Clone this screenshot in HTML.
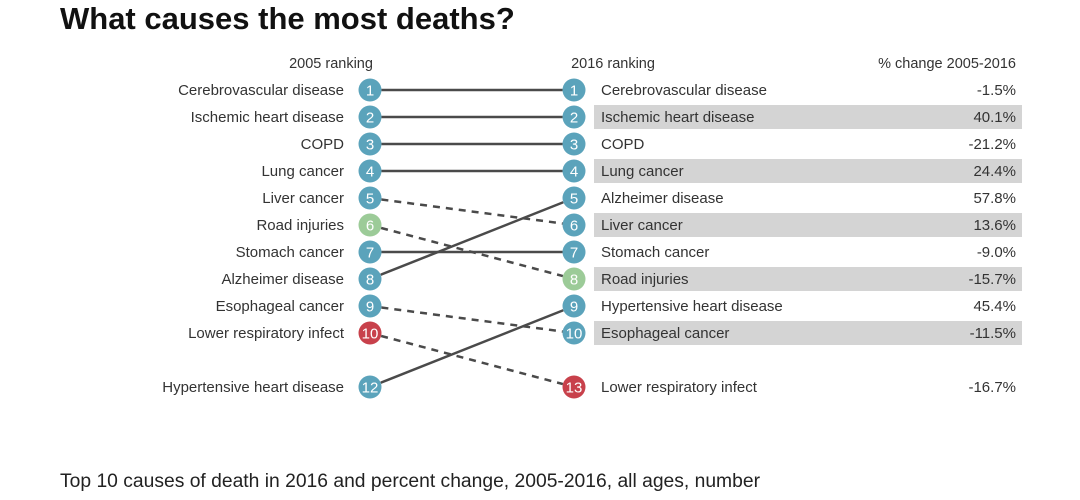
<!DOCTYPE html>
<html><head><meta charset="utf-8">
<style>
html,body{margin:0;padding:0;background:#fff;}
svg{display:block;font-family:"Liberation Sans",sans-serif;}
</style></head>
<body>
<svg id="chart" width="1080" height="500">
<text x="60" y="29" font-size="31" font-weight="bold" fill="#111">What causes the most deaths?</text>
<text x="331" y="68" font-size="14.5" fill="#333" text-anchor="middle">2005 ranking</text>
<text x="613" y="68" font-size="14.5" fill="#333" text-anchor="middle">2016 ranking</text>
<text x="1016" y="68" font-size="14.5" fill="#333" text-anchor="end">% change 2005-2016</text>
<g id="rows"></g>
<text x="60" y="487" font-size="19.3" fill="#222">Top 10 causes of death in 2016 and percent change, 2005-2016, all ages, number</text>
</svg>
<script>
const causes = ["Cerebrovascular disease","Ischemic heart disease","COPD","Lung cancer","Liver cancer","Road injuries","Stomach cancer","Alzheimer disease","Esophageal cancer","Lower respiratory infect","Hypertensive heart disease"];
const rank2005 = [1,2,3,4,5,6,7,8,9,10,12];
const rank2016 = [1,2,3,4,6,8,7,5,10,13,9];
const pctLabels = ["-1.5%","40.1%","-21.2%","24.4%","13.6%","-15.7%","-9.0%","57.8%","-11.5%","-16.7%","45.4%"];
const groups = ["ncd","ncd","ncd","ncd","ncd","injury","ncd","ncd","ncd","comm","ncd"];

const colorOf = {ncd:"#5ba3bb", injury:"#9ccb98", comm:"#c8414b"};
const xL = 370, xR = 574, r = 11.5;
const y = rank => rank <= 10 ? 90 + (rank - 1) * 27 : 387;
const NS = "http://www.w3.org/2000/svg";
const g = document.getElementById("rows");
function mk(tag, attrs){const e=document.createElementNS(NS,tag);for(const k in attrs)e.setAttribute(k,attrs[k]);return e;}

causes.forEach((c,i)=>{
  const r16 = rank2016[i];
  if (r16 % 2 === 0 && r16 <= 10) {
    const b = mk("rect",{x:594,y:y(r16)-12,width:428,height:24,fill:"#d4d4d4"});
    
    
    g.appendChild(b);
  }
});
causes.forEach((c,i)=>{
  const y1=y(rank2005[i]), y2=y(rank2016[i]);
  const dx=xR-xL, dy=y2-y1, len=Math.hypot(dx,dy);
  const ln = mk("line",{x1:xL+r*dx/len,y1:y1+r*dy/len,x2:xR-r*dx/len,y2:y2-r*dy/len,stroke:"#4a4a4a","stroke-width":2.5});
  if (rank2016[i] > rank2005[i]) ln.setAttribute("stroke-dasharray","7,6");
  
  
  g.appendChild(ln);
});
causes.forEach((c,i)=>{
  const col = colorOf[groups[i]];
  [[xL,rank2005[i]],[xR,rank2016[i]]].forEach(([x,rk],side)=>{
    const ci = mk("circle",{cx:x,cy:y(rk),r:r,fill:col});
    
    
    g.appendChild(ci);
    const t = mk("text",{x:x,y:y(rk)+5.5,"font-size":15,fill:"#fff","text-anchor":"middle"});
    t.textContent = rk;
    
    
    g.appendChild(t);
  });
  const l = mk("text",{x:344,y:y(rank2005[i])+5,"font-size":15,fill:"#333","text-anchor":"end"});
  l.textContent = c;
  
  
  g.appendChild(l);
  const rl = mk("text",{x:601,y:y(rank2016[i])+5,"font-size":15,fill:"#333"});
  rl.textContent = c;
  
  
  g.appendChild(rl);
  const p = mk("text",{x:1016,y:y(rank2016[i])+5,"font-size":15,fill:"#333","text-anchor":"end"});
  p.textContent = pctLabels[i];
  
  
  g.appendChild(p);
});
</script>
</body></html>
